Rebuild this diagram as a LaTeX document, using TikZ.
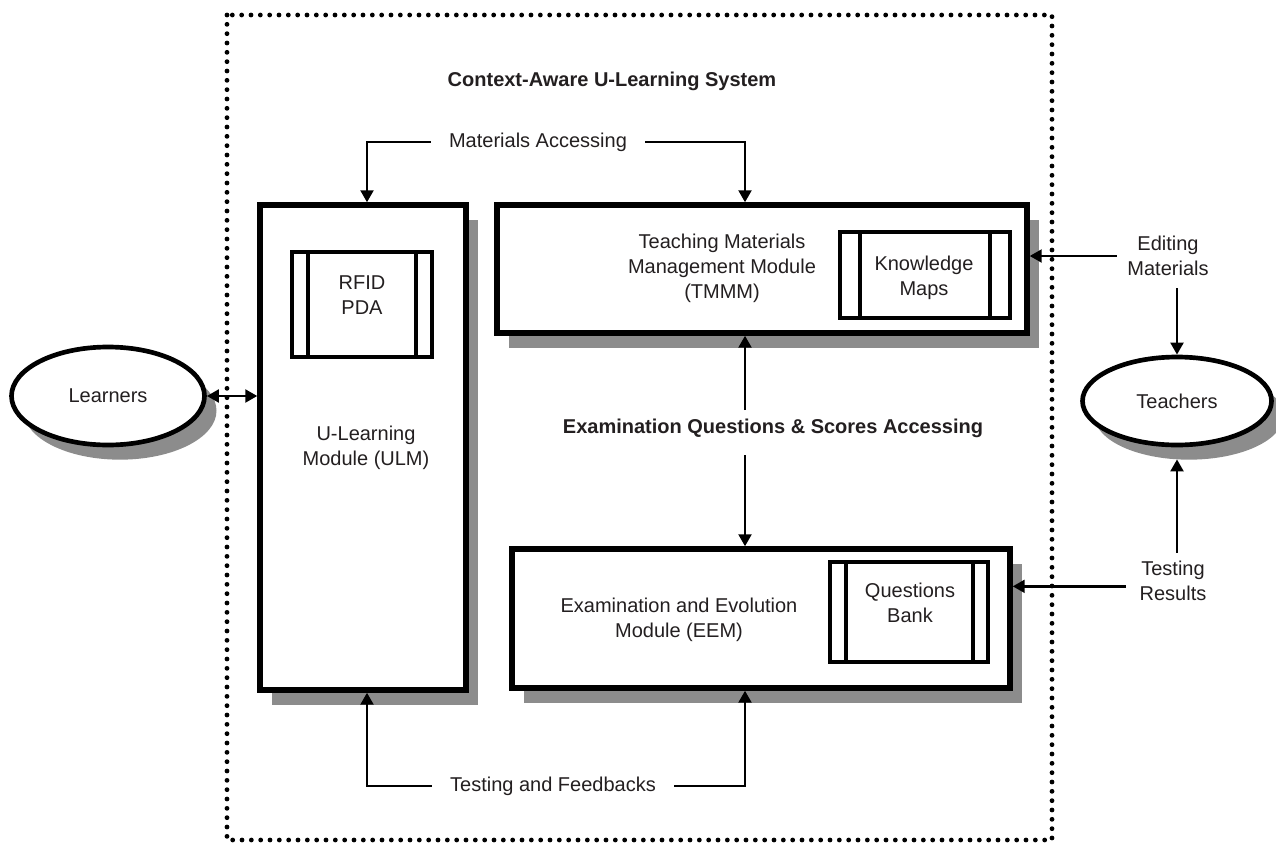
\documentclass[tikz,border=0pt]{standalone}
\usepackage{fontspec}
\setmainfont{Liberation Sans}
\usetikzlibrary{arrows.meta,shadows,shapes.geometric}
\definecolor{shadowgray}{HTML}{8C8C8C}
\definecolor{inkc}{HTML}{231F20}
\begin{document}
\begin{tikzpicture}[x=0.75pt,y=-0.75pt,
  font=\fontsize{15}{18.75}\selectfont, text=inkc,
  shd/.style={drop shadow={shadow xshift=9pt,shadow yshift=-11pt,fill=shadowgray,opacity=1}},
  modbox/.style={draw, line width=4pt, fill=white, inner sep=0pt, shd},
  subbox/.style={draw, line width=3pt, fill=white, inner sep=0pt},
  actor/.style={ellipse, draw, line width=3.5pt, fill=white, inner sep=0pt, shd},
  tip/.style={Triangle[length=9pt,width=9.5pt]},
  conn/.style={line width=2.2pt, -{Triangle[length=9pt,width=9.5pt]}},
  lbl/.style={align=center, inner sep=0pt},
  gaplbl/.style={align=center, inner ysep=0pt, inner xsep=13.5pt},
  bar/.style={line width=3pt}]
\useasboundingbox (0,0) rectangle (1276,842);
\fill[white] (0,0) rectangle (1276,842);

% system frame
\draw[line width=3.6pt, line cap=round, dash pattern=on 0pt off 7pt] (227,15) rectangle (1052,840);
\node[lbl, font=\fontsize{15}{18.75}\selectfont\bfseries] (title) at (612,81) {Context-Aware U-Learning System};

% modules
\node[modbox, minimum width=154.5pt, minimum height=363.75pt] (ulm) at (363,447.5) {};
\node[lbl] (ulmt) at (366,448) {U-Learning\\Module (ULM)};
\node[subbox, minimum width=105pt, minimum height=78.75pt] (rfid) at (362,304.5) {};
\draw[bar] ([xshift=13.5pt]rfid.north west) -- ([xshift=13.5pt]rfid.south west);
\draw[bar] ([xshift=-13.5pt]rfid.north east) -- ([xshift=-13.5pt]rfid.south east);
\node[lbl] (rfidt) at (362,295) {RFID\\PDA};

\node[modbox, minimum width=397.5pt, minimum height=96pt] (tmmm) at (762,269) {};
\node[lbl] (tmmmt) at (722,268) {Teaching Materials\\Management Module\\(TMMM)};
\node[subbox, minimum width=127.5pt, minimum height=64.5pt] (km) at (925,275) {};
\draw[bar] ([xshift=16.5pt]km.north west) -- ([xshift=16.5pt]km.south west);
\draw[bar] ([xshift=-16.5pt]km.north east) -- ([xshift=-16.5pt]km.south east);
\node[lbl] (kmt) at (924,278) {Knowledge\\Maps};

\node[modbox, minimum width=373.5pt, minimum height=104.25pt] (eem) at (761,618.5) {};
\node[lbl] (eemt) at (679,620) {Examination and Evolution\\Module (EEM)};
\node[subbox, minimum width=118.5pt, minimum height=75pt] (qb) at (909,612) {};
\draw[bar] ([xshift=13.5pt]qb.north west) -- ([xshift=13.5pt]qb.south west);
\draw[bar] ([xshift=-13pt]qb.north east) -- ([xshift=-13pt]qb.south east);
\node[lbl] (qbt) at (910,603) {Questions\\Bank};

% actors
\node[actor, minimum width=144.75pt, minimum height=73.5pt] (learn) at (108,396) {Learners};
\node[actor, minimum width=141.75pt, minimum height=66pt] (teach) at (1177,401) {Teachers};

% labels
\node[gaplbl] (ma) at (538,142) {Materials Accessing};
\node[gaplbl] (tf) at (553,786) {Testing and Feedbacks};
\node[lbl, font=\fontsize{15}{18.75}\selectfont\bfseries] (eq) at (773,428) {Examination Questions \& Scores Accessing};
\node[lbl, inner xsep=8pt] (em) at (1168,256) {Editing\\Materials};
\node[lbl, inner xsep=10pt] (tr) at (1173,581) {Testing\\Results};
\coordinate (eqtop) at (745,410);
\coordinate (eqbot) at (745,455);

% connectors
\draw[line width=2.2pt, {Triangle[length=9pt,width=9.5pt]}-{Triangle[length=9pt,width=9.5pt]}]
  (learn.east) -- (learn.east -| ulm.west);
\draw[conn] (ma.west) -| ([xshift=3pt]ulm.north);
\draw[conn] (ma.east) -| (eqtop |- tmmm.north);
\draw[conn] (eqtop) -- (eqtop |- tmmm.south);
\draw[conn] (eqbot) -- (eqbot |- eem.north);
\draw[conn] (tf.west) -| ([xshift=3pt]ulm.south);
\draw[conn] (tf.east) -| (eqtop |- eem.south);
\draw[conn] (em.west) -- (em.west -| tmmm.east);
\draw[conn] ([yshift=-9pt]em.south -| teach.north) -- (teach.north);
\draw[conn] ([yshift=6pt]tr.north -| teach.south) -- ([yshift=-9pt]teach.south);
\draw[conn] ([yshift=-4pt]tr.west) -- ([yshift=-4pt]tr.west -| eem.east);
\end{tikzpicture}
\end{document}
